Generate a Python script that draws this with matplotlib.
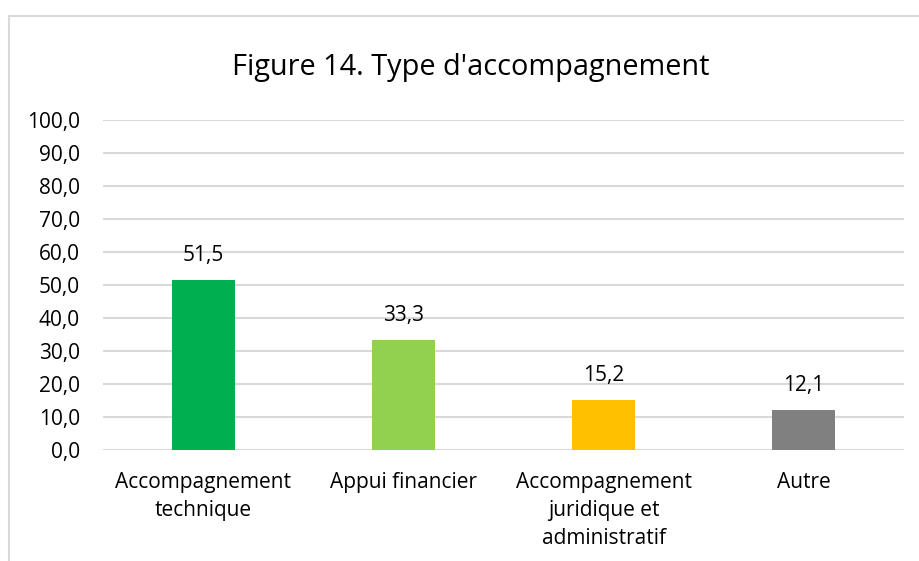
import matplotlib
matplotlib.use("Agg")
import matplotlib.pyplot as plt
from matplotlib.patches import Rectangle

categories = ["Accompagnement\ntechnique", "Appui financier",
              "Accompagnement\njuridique et\nadministratif", "Autre"]
values = [51.5, 33.3, 15.2, 12.1]
colors = ["#00B050", "#92D050", "#FFC000", "#808080"]
yticks = [0, 10, 20, 30, 40, 50, 60, 70, 80, 90, 100]
title = "Figure 14. Type d'accompagnement"

plt.rcParams["font.family"] = ["Open Sans", "DejaVu Sans"]

W, H = 920, 561
fig = plt.figure(figsize=(W / 100, H / 100), dpi=100)

# outer chart frame (clipped at the right and bottom edges)
fig.patches.append(Rectangle((9 / W, -0.1), 1.2, (H - 16) / H + 0.1,
                             transform=fig.transFigure, fill=False,
                             edgecolor="#D9D9D9", linewidth=1.5))

ax = fig.add_axes([103 / W, 1 - 450 / H, (904 - 103) / W, (450 - 120) / H])
x = range(len(values))
bars = ax.bar(x, values, width=0.315, color=colors, zorder=3)
ax.set_xlim(-0.5, len(values) - 0.5)
ax.set_ylim(0, 100)
ax.set_yticks(yticks)
ax.set_yticklabels([f"{v:.1f}".replace(".", ",") for v in yticks])
ax.set_xticks(list(x))
ax.set_xticklabels(categories, linespacing=1.42, va="top")
ax.tick_params(axis="both", length=0, labelsize=15, colors="#000000")
ax.tick_params(axis="y", pad=16.5)
ax.tick_params(axis="x", pad=16)
ax.grid(axis="y", color="#D9D9D9", linewidth=1.5, zorder=0)
for s in ax.spines.values():
    s.set_visible(False)

for b, v in zip(bars, values):
    ax.annotate(f"{v:.1f}".replace(".", ","),
                (b.get_x() + b.get_width() / 2, v),
                xytext=(0, 10), textcoords="offset points",
                ha="center", va="bottom", fontsize=15, color="#000000")

fig.text(471 / W, 1 - 68 / H, title, ha="center", va="center",
         fontsize=20.8, color="#000000")

fig.savefig("out.png", dpi=100)
